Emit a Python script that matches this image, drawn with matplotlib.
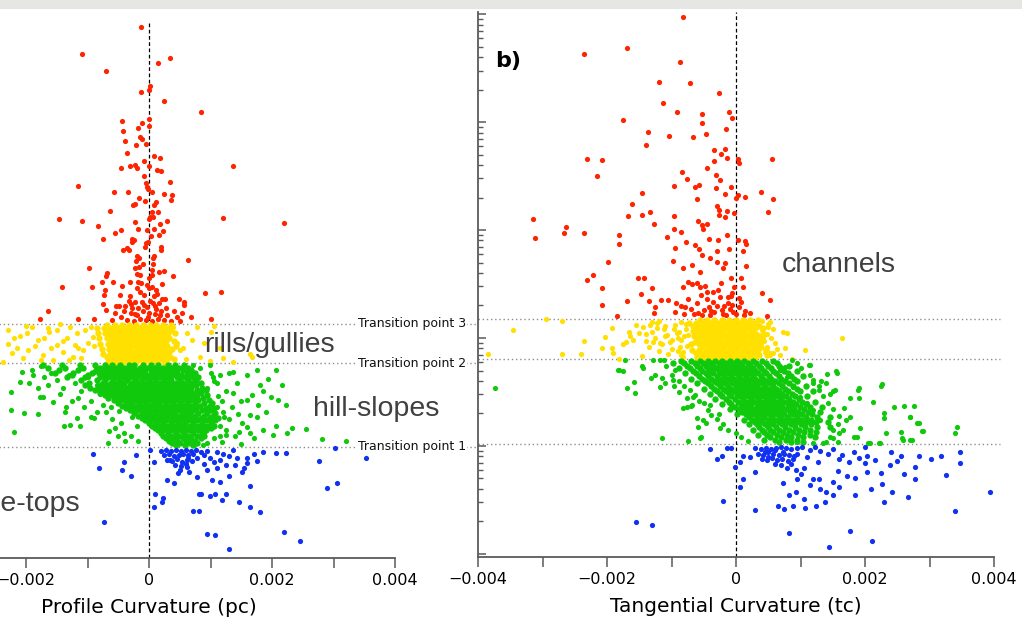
import numpy as np
import matplotlib
matplotlib.use("Agg")
import matplotlib.pyplot as plt
from matplotlib.patches import Rectangle
from matplotlib.ticker import FixedLocator, FixedFormatter, NullFormatter, LogLocator

plt.rcParams['font.family'] = ['DejaVu Sans']

# ---------------- data ----------------
# x values: curvature in units of 1e-5 ; y values: log10 of (unlabelled) area axis
TP_LOG = [0.023, 0.81, 1.18]
TP_NAMES = ['Transition point 1', 'Transition point 2', 'Transition point 3']
XTICKS = [-0.004, -0.003, -0.002, -0.001, 0.0, 0.001, 0.002, 0.003, 0.004]
XTICKLABELS = ['\u22120.004', '', '\u22120.002', '', '0', '', '0.002', '', '0.004']
REGION_LABELS = ['channels', 'rills/gullies', 'hill-slopes', 'ridge-tops']

# ---- panel a: profile curvature ----
pc_red = [(-13,3.98),(-109,3.73),(34,3.69),(15,3.64),(-70,3.57),(2,3.42),(0,3.39),(-13,3.37),(24,3.28),(84,3.18),
 (-44,3.09),(0,3.11),(-11,3.08),(-18,3.03),(0,3.05),(-42,3.00),(-15,2.94),(-11,2.92),(-39,2.91),(-5,2.88),(-21,2.87),
 (-36,2.79),(8,2.76),(18,2.75),(-8,2.72),(-31,2.67),(-23,2.68),(-19,2.65),(-45,2.65),(0,2.67),(136,2.67),(13,2.63),
 (19,2.62),(-8,2.58),(34,2.52),(-5,2.51),(-3,2.47),(-115,2.48),(-2,2.45),(5,2.42),(-57,2.42),(-34,2.42),(24,2.41),
 (37,2.40),(36,2.35),(-16,2.37),(-6,2.34),(11,2.33),(-23,2.31),(-26,2.30),(8,2.30),(-63,2.25),(5,2.24),(15,2.24),
 (2,2.19),(6,2.19),(0,2.17),(-146,2.17),(-109,2.15),(120,2.18),(219,2.13),(-23,2.14),(18,2.12),(29,2.15),(-83,2.10),
 (-18,2.08),(-3,2.07),(8,2.08),(23,2.06),(-45,2.07),(-55,2.04),(-75,1.98),(-28,1.98),(-24,1.97),(-28,1.95),(3,2.01),
 (16,2.02),(-5,1.94),(-2,1.95),(-42,1.88),(-36,1.90),(-32,1.88),(-6,1.91),(19,1.91),(19,1.88),(8,1.82),(6,1.80),
 (-19,1.82),(-16,1.80),(-21,1.77),(63,1.78),(-10,1.75),(6,1.75),(-97,1.71),(-23,1.71),(-16,1.72),(5,1.69),(-68,1.66),
 (-70,1.63),(16,1.67),(24,1.68),(39,1.63),(-19,1.65),(-15,1.64),(5,1.64),(0,1.61),(-76,1.58),(-58,1.58),(21,1.56),
 (-141,1.53),(-92,1.53),(-44,1.54),(-31,1.58),(-18,1.58),(-13,1.57),(5,1.53),(0,1.52),(-71,1.50),(-19,1.52),(91,1.47),
 (117,1.48),(-165,1.30),(-73,1.45),(-47,1.45),(-31,1.44),(13,1.46),(49,1.42),(57,1.39),(57,1.36),(-75,1.37),(-70,1.31),
 (-53,1.35),(-49,1.35),(-39,1.35),(-29,1.37),(-23,1.39),(-8,1.36),(6,1.38),(10,1.35),(21,1.42),(53,1.28),(68,1.25),
 (100,1.23),(-177,1.23),(-115,1.23),(-89,1.23),
 (-40,1.30),(-30,1.28),(-20,1.26),(-10,1.30),(0,1.28),(10,1.27),(20,1.30),(30,1.26),(-35,1.22),(-25,1.21),(-15,1.23),
 (-5,1.22),(5,1.21),(15,1.23),(25,1.22),(35,1.21),(-45,1.25),(45,1.25),(-18,1.33),(-3,1.34),(12,1.32),(28,1.33),
 (-28,1.33),(-12,1.39),(2,1.40),(16,1.38),(-8,1.45),(8,1.44),(-60,1.22),(-55,1.28),(50,1.21),(40,1.30),(-2,1.25),
 (18,1.26),(-22,1.27),(-32,1.40),(26,1.42),(-14,1.48),(12,1.50),(-4,1.55)]

pc_yellow = [(-144,1.18),(-198,1.09),(-162,1.10),(-230,0.99),(-181,1.03),(-196,0.93),(-222,0.91),(-237,0.82),(-209,1.07),
 (-172,0.89),(-149,0.98),(-133,1.05),(-117,1.09),(-104,1.12),(-91,1.06),(-123,0.87),(-107,0.93),(-156,0.84),(78,1.15),
 (70,1.03),(62,1.09),(83,0.87),(99,0.83),(136,0.82),(168,0.87),(164,0.90),(50,0.93),(39,1.15),(-100,1.00),(45,1.00),
 (55,0.95),(60,0.85),(-120,0.98),(-140,0.92),(-130,0.84),
 (-230,1.12),(-215,0.95),(-205,0.86),(-190,1.15),(-185,0.97),(-170,1.05),(-160,0.95),(-150,1.12),(-140,1.02),(-128,1.15),
 (-115,0.95),(-110,0.86),(-95,1.15),(-90,0.97),(-175,0.84),(-220,1.05),(-200,1.16),(-165,1.14),(100,1.10),(115,0.95),
 (90,1.00),(120,0.86),(105,1.16)]
pc_yellow_core = {
 1.17: [-68,-55,-44,-32,-21,-10,1,12,23,35],
 1.145: [-85,-73,-61,-49,-38,-27,-15,-4,7,18,29],
 1.12: [-66,-54,-43,-32,-20,-9,2,13,24,36],
 1.095: [-83,-71,-60,-48,-37,-26,-14,-3,8,19,31,43],
 1.07: [-64,-53,-42,-30,-19,-8,3,15,26],
 1.045: [-81,-69,-58,-47,-35,-24,-13,-2,10,21,33],
 1.02: [-62,-51,-40,-29,-18,-6,5,16,28,40],
 0.995: [-79,-67,-56,-45,-34,-22,-11,0,11,23],
 0.97: [-60,-49,-38,-27,-16,-4,7,18,30,44],
 0.945: [-77,-65,-54,-43,-32,-20,-9,2,13,25,37],
 0.92: [-58,-47,-36,-25,-14,-2,9,20,32],
 0.895: [-75,-63,-52,-41,-30,-18,-7,4,15,27],
 0.87: [-68,-56,-45,-34,-23,-12,0,11,22,34],
 0.845: [-61,-50,-39,-28,-16,-5,6,17,29,41],
 0.825: [-66,-54,-43,-32,-21,-10,2,13,24]}

pc_green = [(-207,0.73),(-225,0.54),(-220,0.16),(-204,0.34),(-224,0.37),(-181,0.33),(-190,0.75),(-177,0.49),(-139,0.22),
 (-113,0.22),(-117,0.29),(-89,0.29),(-66,0.06),(-39,0.08),(-18,0.08),(-209,0.63),(-172,0.49),(-156,0.44),(-136,0.35),
 (-128,0.23),(71,0.79),(83,0.76),(104,0.68),(99,0.79),(136,0.73),(143,0.62),(136,0.53),(207,0.75),(194,0.66),(180,0.60),
 (217,0.60),(199,0.49),(209,0.46),(222,0.42),(232,0.20),(224,0.15),(207,0.22),(201,0.13),(282,0.09),(321,0.08),(256,0.19),
 (159,0.46),(175,0.30),(160,0.21),(147,0.16),(168,0.51),(152,0.25),(126,0.13),(164,0.32),(110,0.40),(120,0.35),(130,0.28),
 (115,0.22),(125,0.18),(140,0.12),(105,0.10),(135,0.40),(145,0.33),(150,0.45),(100,0.30),(112,0.50),(125,0.55),(95,0.20),
 (90,0.15),(118,0.07),(150,0.05),(170,0.10),(185,0.18),(190,0.35),(178,0.42),(165,0.15),(95,0.58),(105,0.64),(115,0.70),
 (130,0.72),(160,0.70),(175,0.75),(185,0.55),(-160,0.72),(-150,0.65),(-140,0.58),(-130,0.70),(-120,0.62),(-110,0.55),
 (-100,0.68),(-95,0.45),(-105,0.40),(-115,0.48),(-125,0.45),(-135,0.40),(-145,0.52),(-165,0.60),(-170,0.68),(-175,0.78),
 (-90,0.73),(-85,0.60),(-80,0.52),(-75,0.42),(-70,0.35),(-85,0.35),(-95,0.30),(-60,0.28),(-55,0.20),(-45,0.25),(-40,0.15),
 (-30,0.12),(-50,0.12),(-65,0.17),(-188,0.70),(-195,0.62),(-180,0.58),
 (110,0.62),(100,0.72),(118,0.45),(122,0.30),(115,0.12),(95,0.06),(88,0.04),(-20,0.22),(-28,0.30),(-62,0.40),(-48,0.36)]
pc_green_core = {
 0.79: [-172,-141,-113,-88,-71,-60,-47,-33,-24,-9,4,15,31,42,57],
 0.765: [-165,-137,-107,-79,-66,-54,-40,-29,-15,-3,10,22,36,49,64],
 0.745: [-146,-116,-86,-75,-61,-48,-36,-21,-11,3,16,27,41,55,68],
 0.72: [-153,-123,-93,-82,-67,-55,-43,-28,-17,-6,8,20,33,46,61,74],
 0.695: [-126,-100,-73,-61,-49,-35,-24,-12,1,13,26,38,52,66],
 0.675: [-133,-104,-79,-66,-53,-41,-31,-19,-6,6,18,31,45,58,72,80],
 0.65: [-110,-84,-71,-58,-47,-36,-23,-11,0,12,25,36,50,63,76],
 0.625: [-98,-74,-62,-50,-40,-27,-16,-4,7,19,30,44,56,70,84],
 0.60: [-104,-78,-66,-55,-44,-31,-20,-9,2,14,25,38,49,62,77],
 0.58: [-96,-83,-70,-58,-48,-35,-25,-13,-2,9,20,32,43,57,69,86],
 0.555: [-88,-75,-63,-51,-40,-29,-17,-7,4,16,27,38,51,63,78,92],
 0.53: [-79,-67,-55,-44,-33,-22,-11,0,11,22,33,45,57,70,84],
 0.505: [-72,-60,-48,-37,-26,-15,-4,7,18,29,40,52,64,78,95],
 0.485: [-66,-52,-41,-30,-19,-8,3,14,25,36,47,59,72,88],
 0.46: [-57,-45,-34,-23,-12,-1,10,21,32,43,54,66,80,98],
 0.435: [-50,-38,-27,-16,-5,6,17,28,39,50,62,75,90,103],
 0.41: [-44,-32,-20,-9,2,13,24,35,46,57,69,83,99],
 0.39: [-37,-25,-14,-3,8,19,30,41,52,64,77,92,106],
 0.365: [-31,-19,-7,4,15,26,37,48,60,72,86,101],
 0.34: [-25,-12,-1,10,21,32,43,55,67,80,95,108],
 0.315: [-18,-6,5,16,27,38,50,62,75,89,104],
 0.295: [-12,0,11,22,33,45,57,70,84,99,112],
 0.27: [-6,6,17,28,40,52,64,78,93,107],
 0.245: [0,12,23,35,47,59,72,86,101],
 0.22: [5,17,29,41,53,66,80,95,106],
 0.20: [10,22,34,46,59,73,88,100],
 0.175: [14,27,39,52,65,79,93],
 0.15: [19,31,44,57,71,86],
 0.125: [23,36,49,63,78,90],
 0.105: [28,41,55,69,84],
 0.08: [33,46,60,75],
 0.055: [38,51,66,78],
 0.035: [44,58,72]}

pc_blue = [(-91,-0.05),(-81,-0.18),(-73,-0.69),(-44,-0.20),(-41,-0.12),(-29,-0.25),(-21,-0.06),(2,-0.01),(8,-0.12),
 (10,-0.42),(8,-0.55),(23,-0.46),(21,-0.50),(29,-0.29),(41,-0.32),(47,-0.23),(34,-0.10),(62,-0.17),(71,-0.58),(81,-0.58),
 (81,-0.42),(84,-0.42),(78,-0.26),(94,-0.80),(107,-0.81),(99,-0.44),(107,-0.42),(102,-0.29),(115,-0.31),(118,-0.48),
 (125,-0.42),(130,-0.94),(130,-0.25),(147,-0.50),(152,-0.22),(154,-0.18),(165,-0.35),(165,-0.55),(180,-0.59),(175,-0.11),
 (185,-0.03),(206,-0.04),(222,-0.04),(220,-0.78),(246,-0.87),(277,-0.11),(290,-0.37),(305,-0.32),(303,0.01),(353,-0.08),
 (143,-0.08),(136,-0.01),(99,-0.08),(89,-0.06),(78,-0.08),(63,-0.08),(159,-0.08),
 (20,-0.02),(28,-0.01),(36,-0.02),(44,-0.01),(52,-0.02),(60,-0.01),(68,-0.02),(76,-0.01),(24,-0.06),(32,-0.05),(40,-0.07),
 (48,-0.06),(56,-0.05),(64,-0.06),(72,-0.05),(30,-0.10),(38,-0.11),(46,-0.09),(54,-0.12),(62,-0.10),(70,-0.11),(42,-0.15),
 (52,-0.16),(60,-0.14),(85,-0.03),(95,-0.02),(110,-0.03),(120,-0.05),(105,-0.12),(90,-0.14),(115,-0.10),(130,-0.07),
 (125,-0.15),(50,-0.20),(65,-0.22),(95,-0.20),(110,-0.18),(140,-0.15),(160,-0.13),(170,-0.05)]

# ---- panel b: tangential curvature ----
tc_red = [(-82,3.97),(-235,3.63),(-169,3.69),(-87,3.56),(-120,3.37),(-71,3.36),(-113,3.18),(-26,3.27),(-92,3.09),(-11,3.09),
 (-6,3.04),(-53,3.07),(-53,2.99),(-175,3.02),(-137,2.91),(-16,2.94),(-47,2.89),(-104,2.87),(-67,2.86),(-140,2.79),(-34,2.74),
 (-23,2.70),(-17,2.75),(-14,2.67),(3,2.66),(5,2.62),(56,2.66),(-231,2.66),(-208,2.65),(-216,2.50),(-34,2.64),(-45,2.57),
 (-84,2.54),(-31,2.51),(-76,2.47),(-25,2.46),(-96,2.41),(-64,2.40),(-57,2.42),(-31,2.39),(-8,2.40),(-17,2.33),(-146,2.34),
 (3,2.32),(0,2.30),(14,2.31),(39,2.35),(57,2.29),(-61,2.29),(-162,2.24),(-30,2.22),(-26,2.19),(-14,2.18),(-3,2.16),(50,2.17),
 (-134,2.17),(-146,2.14),(-168,2.13),(-96,2.13),(-17,2.12),(-26,2.14),(-59,2.08),(-127,2.06),(-53,2.05),(-45,2.06),(-51,2.01),
 (-314,2.10),(-311,1.93),(-264,2.03),(-266,1.97),(-235,1.97),(-182,1.95),(-182,1.87),(-96,2.01),(-85,1.98),(-107,1.94),
 (-42,1.92),(-28,1.91),(-14,1.95),(3,1.91),(14,1.90),(16,1.87),(-78,1.89),(-64,1.86),(-95,1.83),(-57,1.82),(-30,1.81),
 (-11,1.82),(11,1.81),(-199,1.70),(-98,1.71),(-82,1.65),(-53,1.77),(-40,1.74),(-30,1.70),(-17,1.69),(-20,1.65),(-8,1.56),
 (16,1.67),(8,1.56),(11,1.47),(-68,1.68),(-56,1.61),(-231,1.54),(-222,1.58),(-152,1.56),(-143,1.56),(-207,1.46),(-130,1.46),
 (-82,1.47),(-75,1.52),(-68,1.50),(-61,1.51),(-56,1.47),(-45,1.43),(-36,1.43),(-23,1.51),(-12,1.38),(-8,1.39),(-3,1.47),
 (-6,1.42),(-148,1.41),(-169,1.34),(-208,1.31),(-185,1.20),(-135,1.34),(-126,1.29),(-127,1.23),(-116,1.35),(-106,1.35),
 (-93,1.32),(-95,1.24),(-79,1.29),(-59,1.23),(-53,1.21),(-42,1.29),(-34,1.24),(-22,1.26),(-12,1.32),(-6,1.31),(5,1.29),
 (14,1.25),(22,1.23),(40,1.42),(53,1.35),(48,1.20),
 (-80,1.22),(-70,1.27),(-60,1.32),(-50,1.26),(-40,1.21),(-30,1.30),(-20,1.22),(-10,1.27),(0,1.22),(8,1.33),(-75,1.36),
 (-65,1.22),(-45,1.36),(-35,1.33),(-25,1.38),(-15,1.21),(-5,1.24),(5,1.37),(-55,1.40),(-28,1.44),(-85,1.30),(12,1.21),
 (-48,1.48),(-18,1.30),(-38,1.25)]

tc_yellow = [(-295,1.18),(-269,1.16),(-346,1.07),(-385,0.85),(-270,0.85),(-241,0.85),(-236,0.97),(-203,1.01),(-193,1.09),
 (-207,0.91),(-193,0.91),(-191,0.86),(-175,0.94),(-171,0.96),(-166,1.06),(-165,1.02),(-160,0.98),(-182,0.81),(-146,0.83),
 (-144,1.10),(-140,1.04),(-134,1.12),(-123,1.09),(-123,1.14),(-110,1.11),(-129,0.96),(-115,0.94),(-107,1.03),(-99,0.98),
 (-96,1.08),(-89,1.06),(-87,0.92),(-82,0.87),(-75,1.03),(40,1.07),(42,1.01),(37,0.94),(45,0.87),
 (53,0.86),(57,0.86),(73,1.06),(79,1.05),(76,0.91),(68,0.84),(87,0.81),(107,0.89),(165,1.00),
 (-90,1.00),(-100,0.90),(-85,0.84),(-120,0.88),(-135,0.92),(-150,1.05),(-110,1.02),(-95,1.12),
 (-105,0.85),(50,1.13),(55,1.00),(48,0.92),(60,0.95),(-155,1.12),(-130,1.15),
 (-120,1.16),(-112,1.08),(-126,1.00),(-118,0.95),(-92,1.05),(-86,1.15),(-102,0.96),(-90,0.88),(-78,1.08),(-140,0.97),
 (-130,1.06),(-86,0.98),(58,1.08),(52,1.15),(64,0.90),(48,1.04),
 (-78,1.13),(-80,1.02),(-76,0.93),(-82,0.82),(50,1.10),(44,0.97),(52,0.84),(40,1.16)]
tc_yellow_core = {
 1.165: [-56,-45,-34,-22,-11,0,11,22,34],
 1.14: [-73,-62,-50,-39,-28,-16,-5,6,17,28],
 1.115: [-67,-56,-44,-33,-22,-10,1,12,23,35],
 1.09: [-61,-49,-38,-27,-15,-4,7,18,30,42],
 1.065: [-66,-55,-43,-32,-21,-9,2,13,25],
 1.04: [-60,-48,-37,-26,-14,-3,9,20,31,44],
 1.015: [-65,-54,-42,-31,-20,-8,3,14,26,37],
 0.99: [-59,-47,-36,-25,-13,-2,10,21,32],
 0.965: [-64,-53,-41,-30,-19,-7,4,15,27,38],
 0.94: [-69,-58,-46,-35,-24,-12,-1,11,22,33],
 0.915: [-52,-40,-29,-18,-6,5,16,28,39],
 0.89: [-68,-57,-45,-34,-23,-11,0,12,23,34,47],
 0.865: [-62,-51,-39,-28,-17,-5,6,17,29],
 0.84: [-56,-44,-33,-22,-10,1,13,24,35,48],
 0.82: [-61,-50,-38,-27,-16,-4,7,18,30]}

tc_green = [(-373,0.54),(-172,0.80),(-182,0.70),(-175,0.69),(-146,0.74),(-144,0.72),(-129,0.80),(-118,0.80),(-112,0.80),
 (-132,0.63),(-126,0.66),(-115,0.63),(-158,0.59),(-169,0.54),(-157,0.49),(-118,0.55),(-110,0.58),(-98,0.61),(-82,0.35),
 (-76,0.36),(-68,0.38),(-115,0.07),(-75,0.05),(-56,0.07),(-61,0.26),(-51,0.24),(-47,0.21),(-67,0.45),(-25,0.17),(-183,0.70),
 (-54,0.08),(-59,0.18),(-70,0.37),(115,0.75),(141,0.67),(157,0.68),(120,0.61),(129,0.56),(151,0.51),(177,0.44),(191,0.54),
 (191,0.44),(225,0.56),(213,0.41),(245,0.36),(261,0.37),(276,0.37),(270,0.27),(281,0.21),(290,0.14),(343,0.18),(339,0.12),
 (230,0.31),(230,0.26),(233,0.12),(256,0.13),(259,0.06),(273,0.06),(224,0.03),(205,0.03),(188,0.08),(177,0.27),(166,0.15),
 (151,0.15),(146,0.08),(130,0.24),(120,0.33),(110,0.40),(99,0.45),(89,0.55),(79,0.64),(68,0.70),(76,0.73),(87,0.80),
 (158,0.04),(120,0.03),(95,0.04),(284,0.21),(289,0.14),(269,0.27),(258,0.07),(270,0.06),(183,0.08),(193,0.17),(189,0.52),
 (154,0.52),(140,0.58),(155,0.69),(113,0.75),(227,0.57),(207,0.03),(222,0.03),
 (-108,0.74),(-100,0.66),(-94,0.70),(-88,0.60),(-80,0.56),(-72,0.52),(-64,0.47),(-58,0.42),(-50,0.40),(-44,0.33),
 (-38,0.29),(-30,0.25),(-20,0.20),(-12,0.15),(0,0.12),(8,0.08),(18,0.05),(-88,0.50),(-96,0.56),(-76,0.44),(-40,0.38),
 (-26,0.30),(115,0.66),(120,0.58),(128,0.52),(135,0.46),(142,0.40),(150,0.34),(160,0.28),(158,0.20),(160,0.12),
 (150,0.07),(140,0.04),(100,0.72),(95,0.77),(132,0.60),(145,0.48),(168,0.35),(170,0.24),(135,0.03)]
tc_green_core = {
 0.79: [-85,-70,-56,-44,-33,-21,-10,1,13,26,40,58],
 0.765: [-97,-80,-64,-51,-39,-27,-16,-5,6,18,31,46,63],
 0.745: [-76,-60,-47,-35,-23,-12,-1,10,22,35,50,67,82],
 0.72: [-88,-71,-56,-43,-31,-19,-8,3,14,26,39,54,70],
 0.695: [-67,-52,-39,-27,-15,-4,7,18,30,43,58,75,94],
 0.675: [-79,-62,-47,-35,-23,-11,0,11,22,34,47,62,80],
 0.65: [-58,-43,-30,-18,-7,4,15,26,38,51,66,85,104],
 0.625: [-70,-53,-39,-26,-14,-3,8,19,30,42,55,70,90],
 0.60: [-48,-34,-21,-9,2,13,24,35,47,60,76,94],
 0.58: [-60,-44,-30,-17,-5,6,17,28,40,52,66,82],
 0.555: [-39,-25,-12,0,11,22,33,45,57,71,88,108],
 0.53: [-50,-34,-20,-7,5,16,27,38,50,62,76,94],
 0.505: [-30,-16,-3,9,20,31,43,55,67,81,99,120],
 0.485: [-41,-25,-11,2,14,25,36,48,60,72,87],
 0.46: [-21,-7,6,18,29,41,53,65,77,92,110],
 0.435: [-32,-16,-2,11,23,34,46,58,70,82,97],
 0.41: [-11,3,15,27,39,51,63,75,88,103,122],
 0.39: [-22,-7,7,20,32,44,56,68,80,93,109],
 0.365: [-2,12,24,36,48,60,72,85,99,115,134],
 0.34: [-10,4,17,29,41,53,65,77,90,105],
 0.315: [10,22,34,46,58,70,83,96,111,130],
 0.295: [2,15,27,39,51,63,75,88,102,118],
 0.27: [20,32,44,56,68,81,94,108,125,146],
 0.245: [12,25,37,49,61,74,87,101,116],
 0.22: [29,41,53,66,79,93,108,124,142],
 0.20: [20,33,45,58,71,85,100,116],
 0.175: [36,49,62,76,91,107,125,146],
 0.15: [26,40,53,67,82,98,115],
 0.125: [44,58,73,89,106,124],
 0.105: [34,48,63,79,96,114],
 0.08: [53,69,86,104,122],
 0.055: [44,60,77,95],
 0.035: [67,85,104]}

tc_blue = [(-40,-0.03),(-14,-0.02),(-8,-0.02),(-30,-0.12),(-22,-0.09),(-2,-0.19),(6,-0.15),(11,-0.09),(22,-0.10),(30,-0.24),
 (11,-0.31),(6,-0.38),(-20,-0.51),(30,-0.59),(-155,-0.70),(-130,-0.73),(65,-0.56),(75,-0.58),(89,-0.56),(107,-0.57),
 (124,-0.56),(138,-0.52),(82,-0.45),(93,-0.43),(106,-0.49),(73,-0.34),(79,-0.20),(95,-0.31),(106,-0.20),(120,-0.31),
 (129,-0.31),(140,-0.43),(151,-0.33),(158,-0.23),(172,-0.28),(127,-0.15),(143,-0.07),(165,-0.08),(183,-0.06),(200,-0.01),
 (203,-0.09),(200,-0.16),(203,-0.24),(225,-0.25),(227,-0.35),(242,-0.43),(238,-0.18),(256,-0.09),(261,-0.26),(266,-0.47),
 (278,-0.19),(278,-0.31),(284,-0.09),(303,-0.12),(318,-0.09),(326,-0.27),(348,-0.06),(348,-0.16),(339,-0.60),(394,-0.43),
 (82,-0.81),(177,-0.79),(211,-0.88),(144,-0.94),(93,-0.22),(50,-0.10),(45,-0.06),(61,-0.04),(73,-0.06),(95,-0.07),(123,-0.01),
 (30,-0.02),(38,-0.03),(46,-0.02),(54,-0.03),(62,-0.02),(70,-0.01),(78,-0.02),(86,-0.03),(94,-0.02),(102,-0.01),(34,-0.07),
 (42,-0.08),(50,-0.06),(58,-0.07),(66,-0.08),(74,-0.07),(82,-0.08),(90,-0.09),(40,-0.12),(48,-0.13),(56,-0.11),(64,-0.13),
 (72,-0.12),(80,-0.14),(88,-0.12),(60,-0.17),(70,-0.18),(85,-0.17),(110,-0.10),(115,-0.04),(130,-0.05),(150,-0.03),
 (160,-0.12),(175,-0.15),(190,-0.11),(215,-0.13),(240,-0.06),(250,-0.14),(100,-0.26),(115,-0.36),(130,-0.40),(150,-0.45),
 (160,-0.38),(185,-0.30),(210,-0.40),(230,-0.52),(185,-0.45)]

COLORS = {'red': '#ff2400', 'yellow': '#ffe000', 'green': '#10c80c', 'blue': '#1030f2'}


def points(pairs=None, core=None):
    xs, ys = [], []
    if pairs:
        xs += [p[0] for p in pairs]
        ys += [p[1] for p in pairs]
    if core:
        for ly, row in core.items():
            xs += list(row)
            ys += [ly] * len(row)
    return np.array(xs, dtype=float) * 1e-5, 10.0 ** np.array(ys, dtype=float)


W, H = 1022, 626
fig = plt.figure(figsize=(W / 100, H / 100), dpi=100)
fig.patches.append(Rectangle((0, 1 - 9 / H), 1, 9 / H, transform=fig.transFigure,
                             facecolor='#e6e6e4', edgecolor='none', zorder=0))

axL = fig.add_axes([-97 / W, 1 - 558 / H, 492 / W, 535 / H])
axR = fig.add_axes([478 / W, 1 - 557 / H, 516 / W, 545 / H])

YMIN, YMAX = 10 ** -1.028, 10 ** 4.019
SPINE = '#5a5a5a'

panel_data = {
    axL: [(pc_red, None, 'red'), (pc_yellow, pc_yellow_core, 'yellow'),
          (pc_green, pc_green_core, 'green'), (pc_blue, None, 'blue')],
    axR: [(tc_red, None, 'red'), (tc_yellow, tc_yellow_core, 'yellow'),
          (tc_green, tc_green_core, 'green'), (tc_blue, None, 'blue')],
}

for ax, groups in panel_data.items():
    ax.set_yscale('log')
    ax.set_xlim(-0.004, 0.004)
    ax.set_ylim(YMIN, YMAX)
    for sparse, core, cname in groups:
        x, y = points(pairs=sparse)
        ax.scatter(x, y, s=14, c=COLORS[cname], linewidths=0, zorder=3)
        if core:
            xc, yc = points(core=core)
            ax.scatter(xc, yc, s=21, c=COLORS[cname], linewidths=0, zorder=3)
    ax.axvline(0, color='black', lw=0.9, ls=(0, (3, 2)), zorder=2)
    for s in ('top', 'right'):
        ax.spines[s].set_visible(False)
    for s in ('left', 'bottom'):
        ax.spines[s].set_color(SPINE)
        ax.spines[s].set_linewidth(1.3)
    ax.xaxis.set_major_locator(FixedLocator(XTICKS))
    ax.xaxis.set_major_formatter(FixedFormatter(XTICKLABELS))
    ax.tick_params(axis='x', direction='out', length=7, width=1.1, color=SPINE,
                   labelsize=11.5, pad=4)
    ax.yaxis.set_major_locator(LogLocator(base=10, numticks=12))
    ax.yaxis.set_minor_locator(LogLocator(base=10, subs=np.arange(2, 10), numticks=12))
    ax.yaxis.set_major_formatter(NullFormatter())
    ax.yaxis.set_minor_formatter(NullFormatter())
    ax.tick_params(axis='y', which='major', direction='in', length=6, width=1.1, color=SPINE)
    ax.tick_params(axis='y', which='minor', direction='in', length=3.5, width=1.0, color=SPINE)

axL.set_xlabel('Profile Curvature (pc)', fontsize=14.5, labelpad=7)
axR.set_xlabel('Tangential Curvature (tc)', fontsize=14.5, labelpad=7)

# transition lines and labels
for lg, name in zip(TP_LOG, TP_NAMES):
    yv = 10 ** lg
    axL.plot([-0.004, 0.00535], [yv, yv], ls=(0, (1, 2)), color='#8c8c8c', lw=1.0,
             clip_on=False, zorder=1)
    axL.text(0.00515, yv, name, ha='right', va='center', fontsize=9, color='#111111',
             bbox=dict(facecolor='white', edgecolor='none', pad=1.0), clip_on=False, zorder=6)
    axR.plot([-0.004, 0.0041], [yv, yv], ls=(0, (1, 2)), color='#8c8c8c', lw=1.0,
             clip_on=False, zorder=1)

# region labels (figure pixel positions)
RCOL = '#404040'
rfont = dict(family=['Liberation Sans', 'DejaVu Sans'], fontsize=20.5, color=RCOL, va='baseline')
fig.text(782 / W, 1 - 272 / H, REGION_LABELS[0], ha='left', **rfont)
fig.text(204 / W, 1 - 352 / H, REGION_LABELS[1], ha='left', **rfont)
fig.text(313 / W, 1 - 416 / H, REGION_LABELS[2], ha='left', **rfont)
fig.text(80 / W, 1 - 511 / H, REGION_LABELS[3], ha='right', **rfont)

fig.text(495 / W, 1 - 67 / H, 'b)', fontsize=16, fontweight='bold', ha='left', va='baseline')

fig.savefig('out.png', dpi=100)
